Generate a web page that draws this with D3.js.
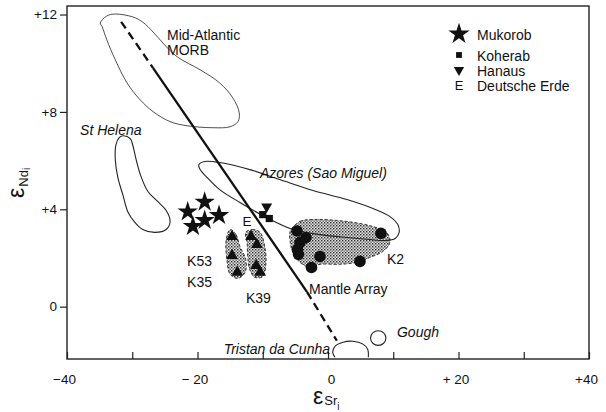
<!DOCTYPE html>
<html>
<head>
<meta charset="utf-8">
<script src="https://cdn.jsdelivr.net/npm/d3@7"></script>
<style>
  body { margin: 0; background: #fff; }
  svg { display: block; font-family: Arial, "Liberation Sans", sans-serif; }
</style>
</head>
<body>
<svg id="chart" width="606" height="412"></svg>
<script>
'use strict';

// eSr(i) / eNd(i) values
const mukorob = [[-21.5, 3.9], [-18.9, 4.3], [-16.7, 3.75], [-20.7, 3.3], [-18.9, 3.55]];
const koherab = [[-10.0, 3.78], [-9.0, 3.62]];
const hanaus = [[-9.4, 4.11]];
const deutscheErde = [[-12.4, 3.5]];
const k53k35 = [[-14.7, 2.88], [-14.7, 2.1], [-13.9, 1.41]];
const k39 = [[-11.8, 2.88], [-10.9, 2.55], [-11.0, 1.69], [-10.4, 1.41]];
const k2 = [[-4.75, 3.11], [-3.37, 2.84], [-4.29, 2.64], [-4.67, 2.35], [-4.52, 2.15],
            [-1.23, 2.06], [-2.53, 1.61], [4.9, 1.86], [8.12, 3.01]];

// reference fields
const morbField = [[-34.9, 11.65], [-33.9, 11.94], [-32.6, 12.02], [-29.9, 11.9], [-28.4, 11.69],
  [-26.8, 11.28], [-25.3, 10.83], [-23.1, 10.26], [-19.6, 9.73], [-16.6, 9.19], [-14.6, 8.58],
  [-13.6, 7.96], [-13.8, 7.6], [-15.0, 7.39], [-17.6, 7.35], [-21.6, 7.43], [-24.2, 7.6],
  [-26.8, 8.01], [-28.8, 8.5], [-30.8, 9.19], [-32.6, 10.14], [-33.9, 10.96], [-34.6, 11.49]];
const stHelenaField = [[-31.4, 7.02], [-30.3, 6.9], [-29.9, 6.61], [-29.4, 6.04], [-28.7, 5.38],
  [-27.6, 4.73], [-26.1, 4.32], [-24.8, 3.95], [-24.2, 3.5], [-24.8, 3.17], [-26.5, 3.05],
  [-28.4, 3.17], [-29.6, 3.46], [-30.7, 3.91], [-31.4, 4.56], [-32.2, 5.3], [-32.6, 6.04],
  [-32.5, 6.65], [-32.0, 6.94]];
const azoresField = [[-19.8, 5.83], [-18.9, 5.96], [-16.6, 5.92], [-12.0, 5.63], [-7.4, 5.22],
  [-2.3, 4.77], [2.9, 4.4], [6.9, 4.03], [9.5, 3.7], [10.7, 3.37], [10.9, 3.05], [10.3, 2.8],
  [8.7, 2.72], [6.4, 2.76], [2.9, 2.84], [-1.2, 2.96], [-5.4, 3.17], [-9.7, 3.7], [-13.5, 4.28],
  [-16.6, 4.81], [-18.5, 5.3], [-19.6, 5.63]];
const tristanField = [[1.07, -2.08], [0.72, -1.87], [1.07, -1.63], [2.3, -1.46], [3.83, -1.42],
  [5.36, -1.54], [6.08, -1.75], [6.18, -2.08]];
const gough = { x: 7.7, y: -1.29, rx: 1.18, ry: 0.3 };

const k53Field = [[-15.0, 3.17], [-14.1, 2.96], [-13.5, 2.47], [-12.6, 1.94], [-12.7, 1.41],
  [-13.8, 1.16], [-15.0, 1.33], [-15.5, 1.94], [-15.6, 2.76]];
const k39Field = [[-12.6, 3.05], [-11.6, 3.17], [-10.4, 3.05], [-9.7, 2.47], [-9.5, 1.82],
  [-10.0, 1.24], [-11.2, 1.2], [-12.0, 1.53], [-12.3, 2.06], [-12.4, 2.64]];
const k2Field = [[-5.8, 3.09], [-4.3, 3.5], [-2.3, 3.58], [2.9, 3.5], [6.9, 3.29], [9.0, 3.05],
  [9.5, 2.64], [8.4, 2.27], [6.4, 2.02], [4.4, 1.82], [1.8, 1.74], [-1.2, 1.74], [-2.8, 1.61],
  [-4.3, 1.82], [-5.4, 2.23], [-5.8, 2.68]];

// mantle array: dashed / solid / dashed
const mantleArray = [
  { dashed: true,  pts: [[-31.7, 11.7], [-26.8, 9.8]] },
  { dashed: false, pts: [[-26.8, 9.8], [-3.2, 0.6]] },
  { dashed: true,  pts: [[-3.2, 0.6], [1.35, -1.4]] }
];

const xTicks = [-40, -30, -20, -10, 0, 10, 20, 30, 40];
const xLabelValues = [-40, -20, 0, 20, 40];
const xLabelText = ['\u221240', '\u2212 20', '0', '+ 20', '+40'];
const yTicks = [0, 4, 8, 12];

const legendNames = ['Mukorob', 'Koherab', 'Hanaus', 'Deutsche Erde'];

const notes = [
  { t: 'Mid-Atlantic', x: -24.67, y: 10.96 },
  { t: 'MORB', x: -24.67, y: 10.34 },
  { t: 'St Helena', x: -38.0, y: 7.06, it: true },
  { t: 'Azores (Sao Miguel)', x: -10.42, y: 5.3, it: true },
  { t: 'K53', x: -21.6, y: 1.65 },
  { t: 'K35', x: -21.6, y: 0.79 },
  { t: 'K39', x: -12.57, y: 0.14 },
  { t: 'K2', x: 9.04, y: 1.74 },
  { t: 'Mantle Array', x: -2.91, y: 0.5 },
  { t: 'Tristan da Cunha', x: 0.31, y: -1.95, it: true, end: true },
  { t: 'Gough', x: 10.57, y: -1.26, it: true }
];

const svg = d3.select('#chart');
const x = d3.scaleLinear().domain([-40, 40]).range([67, 589]);
const y = d3.scaleLinear().domain([-2.15, 12.35]).range([359, 6]);

const defs = svg.append('defs');
const pat = defs.append('pattern')
  .attr('id', 'stipple')
  .attr('width', 3).attr('height', 3)
  .attr('patternUnits', 'userSpaceOnUse');
pat.append('rect').attr('width', 3).attr('height', 3).attr('fill', '#e4e4e4');
pat.append('rect').attr('width', 1.4).attr('height', 1.4).attr('fill', '#2a2a2a');
pat.append('rect').attr('x', 1.5).attr('y', 1.5).attr('width', 1.3).attr('height', 1.3).attr('fill', '#444');

const closed = d3.line().x(d => x(d[0])).y(d => y(d[1])).curve(d3.curveCatmullRomClosed.alpha(0.5));
const open = d3.line().x(d => x(d[0])).y(d => y(d[1])).curve(d3.curveCatmullRom.alpha(0.5));
const straight = d3.line().x(d => x(d[0])).y(d => y(d[1]));

// stippled sample fields
[k53Field, k39Field, k2Field].forEach(f => {
  svg.append('path')
    .attr('d', closed(f))
    .attr('fill', 'url(#stipple)')
    .attr('stroke', '#222')
    .attr('stroke-width', 0.9)
    .attr('stroke-dasharray', '3,2');
});

// reference fields
[morbField, stHelenaField, azoresField].forEach((f, i) => {
  svg.append('path')
    .attr('d', closed(f))
    .attr('fill', 'none')
    .attr('stroke', '#222')
    .attr('stroke-width', i === 0 ? 0.8 : 1.1);
});
svg.append('path')
  .attr('d', open(tristanField))
  .attr('fill', 'none')
  .attr('stroke', '#222')
  .attr('stroke-width', 1.1);
svg.append('ellipse')
  .attr('cx', x(gough.x)).attr('cy', y(gough.y))
  .attr('rx', x(gough.x + gough.rx) - x(gough.x))
  .attr('ry', y(gough.y - gough.ry) - y(gough.y))
  .attr('fill', 'none').attr('stroke', '#222').attr('stroke-width', 1.1);

// mantle array
mantleArray.forEach(s => {
  svg.append('path')
    .attr('d', straight(s.pts))
    .attr('fill', 'none')
    .attr('stroke', '#111')
    .attr('stroke-width', 2.3)
    .attr('stroke-dasharray', s.dashed ? '8,5' : null);
});

// frame
svg.append('rect')
  .attr('x', x(-40)).attr('y', y(12.35))
  .attr('width', x(40) - x(-40)).attr('height', y(-2.15) - y(12.35))
  .attr('fill', 'none').attr('stroke', '#222').attr('stroke-width', 1.4);

// axes
const yAxis = d3.axisLeft(y).tickValues(yTicks).tickSize(7).tickPadding(3)
  .tickFormat(d => d > 0 ? '+' + d : String(d));
svg.append('g')
  .attr('transform', `translate(${x(-40)},0)`)
  .call(yAxis)
  .call(g => g.select('.domain').remove())
  .attr('font-family', 'Arial, "Liberation Sans", sans-serif')
  .attr('font-size', 13.5)
  .call(g => g.selectAll('line').attr('stroke', '#222').attr('stroke-width', 1.2))
  .call(g => g.selectAll('text').attr('fill', '#111'));

const xAxis = d3.axisBottom(x).tickValues(xTicks).tickSize(-7).tickPadding(15)
  .tickFormat(d => { const i = xLabelValues.indexOf(d); return i < 0 ? '' : xLabelText[i]; });
svg.append('g')
  .attr('transform', `translate(0,${y(-2.15)})`)
  .call(xAxis)
  .call(g => g.select('.domain').remove())
  .attr('font-family', 'Arial, "Liberation Sans", sans-serif')
  .attr('font-size', 13.5)
  .call(g => g.selectAll('line').attr('stroke', '#222').attr('stroke-width', 1.2))
  .call(g => g.selectAll('text').attr('fill', '#111').attr('dx', d => d === 0 ? 3 : -3));

// axis titles
const xt = svg.append('text').attr('x', 313).attr('y', 404).attr('fill', '#111');
xt.append('tspan').attr('font-size', 23).text('\u03b5');
xt.append('tspan').attr('font-size', 13).attr('dx', 1).attr('dy', 1).text('Sr');
xt.append('tspan').attr('font-size', 10).attr('dy', 5).text('i');

const yt = svg.append('text').attr('transform', 'translate(24,198) rotate(-90)').attr('fill', '#111');
yt.append('tspan').attr('font-size', 23).text('\u03b5');
yt.append('tspan').attr('font-size', 13).attr('dx', 1).attr('dy', 4).text('Nd');
yt.append('tspan').attr('font-size', 10).attr('dy', 2).text('i');

// markers
const sym = (type, size) => d3.symbol().type(type).size(size)();
const plotSymbols = (data, type, size, rot) => {
  svg.selectAll(null).data(data).join('path')
    .attr('d', sym(type, size))
    .attr('transform', d => `translate(${x(d[0])},${y(d[1])})` + (rot ? ` rotate(${rot})` : ''))
    .attr('fill', '#111');
};

svg.selectAll(null).data(k2).join('circle')
  .attr('cx', d => x(d[0])).attr('cy', d => y(d[1])).attr('r', 5.8)
  .attr('fill', '#111');
plotSymbols(k53k35, d3.symbolTriangle, 60);
plotSymbols(k39, d3.symbolTriangle, 60);
plotSymbols(mukorob, d3.symbolStar, 130);
plotSymbols(koherab, d3.symbolSquare, 52);
plotSymbols(hanaus, d3.symbolTriangle, 52, 180);
svg.selectAll(null).data(deutscheErde).join('text')
  .attr('x', d => x(d[0])).attr('y', d => y(d[1]))
  .attr('dy', '0.36em')
  .attr('text-anchor', 'middle')
  .attr('font-size', 13.5)
  .attr('fill', '#111')
  .text('E');

// annotations
svg.selectAll(null).data(notes).join('text')
  .attr('x', d => x(d.x)).attr('y', d => y(d.y))
  .attr('font-size', 14)
  .attr('font-style', d => d.it ? 'italic' : null)
  .attr('text-anchor', d => d.end ? 'end' : 'start')
  .attr('fill', '#111')
  .text(d => d.t);

// legend
const legend = svg.append('g');
const legendRows = [34, 55, 70, 85];
legend.append('path').attr('d', sym(d3.symbolStar, 140)).attr('transform', `translate(459,${legendRows[0]})`).attr('fill', '#111');
legend.append('path').attr('d', sym(d3.symbolSquare, 34)).attr('transform', `translate(459,${legendRows[1]})`).attr('fill', '#111');
legend.append('path').attr('d', sym(d3.symbolTriangle, 46)).attr('transform', `translate(459,${legendRows[2]}) rotate(180)`).attr('fill', '#111');
legend.append('text').attr('x', 459).attr('y', legendRows[3]).attr('dy', '0.36em')
  .attr('text-anchor', 'middle').attr('font-size', 13).attr('fill', '#111').text('E');
legend.selectAll(null).data(legendNames).join('text')
  .attr('x', 477).attr('y', (d, i) => legendRows[i] + 1).attr('dy', '0.36em')
  .attr('font-size', 14).attr('fill', '#111')
  .text(d => d);
</script>
</body>
</html>
